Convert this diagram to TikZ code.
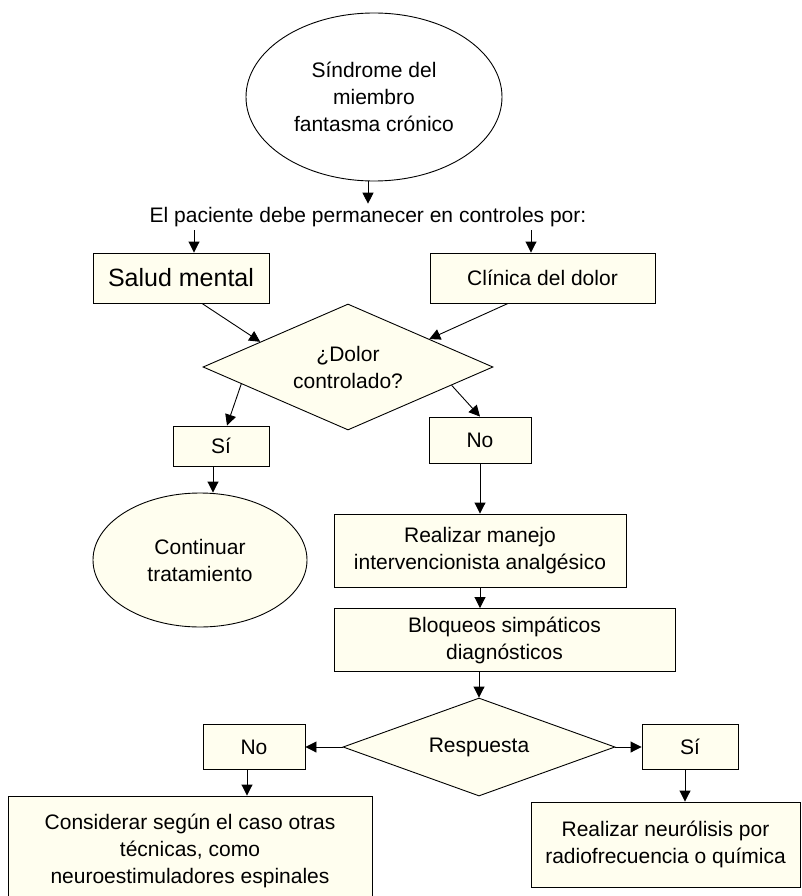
\documentclass[tikz,border=0pt]{standalone}
\usepackage{fontspec}
\setmainfont{Liberation Sans}
\usepackage{tikz}
\usetikzlibrary{shapes.geometric,arrows.meta}
\definecolor{crema}{HTML}{FFFEEF}

\begin{document}
\begin{tikzpicture}[x=1pt,y=-1pt,
                    every node/.style={font=\fontsize{21}{27}\selectfont, align=center},
                    caja/.style={draw, fill=crema, line width=0.9pt, inner sep=0pt},
                    elipse/.style={draw, ellipse, line width=0.9pt, inner sep=0pt},
                    rombo/.style={draw, diamond, fill=crema, line width=0.9pt, inner sep=0pt, aspect=2.3},
                    flecha/.style={line width=0.9pt, -{Triangle[length=11pt,width=11pt]}}]
                    \useasboundingbox (0,0) rectangle (801,896);
                    \node[elipse, fill=white, minimum width=256, minimum height=168] (sindrome) at (374,97)
                        {S\'{\i}ndrome del\\miembro\\fantasma cr\'onico};
                    \node (texto) at (368,217) {El paciente debe permanecer en controles por:};
                    \node[caja, minimum width=176, minimum height=50, font=\fontsize{25}{30}\selectfont] (salud) at (181,278) {Salud mental};
                    \node[caja, minimum width=225, minimum height=50] (clinica) at (542.5,278) {Cl\'{\i}nica del dolor};
                    \node[rombo, minimum width=290, minimum height=126] (dolor) at (348,367) {¿Dolor\\controlado?};
                    \node[caja, minimum width=96, minimum height=40] (si1) at (221,446) {S\'{\i}};
                    \node[caja, minimum width=102, minimum height=46] (no1) at (480,440) {No};
                    \node[elipse, fill=crema, minimum width=214, minimum height=134] (continuar) at (200,560)
                        {Continuar\\tratamiento};
                    \node[caja, minimum width=292, minimum height=73] (manejo) at (480,550.5)
                        {Realizar manejo\\intervencionista analg\'esico};
                    \node[caja, minimum width=341, minimum height=63] (bloqueos) at (504.5,640)
                        {Bloqueos simp\'aticos\\diagn\'osticos};
                    \node[rombo, minimum width=272, minimum height=98] (respuesta) at (479,747) {Respuesta};
                    \node[caja, minimum width=102, minimum height=45] (no2) at (254,747) {No};
                    \node[caja, minimum width=96, minimum height=45] (si2) at (690,747) {S\'{\i}};
                    \node[caja, minimum width=364, minimum height=110] (considerar) at (190,851)
                        {Considerar seg\'un el caso otras\\t\'ecnicas, como\\neuroestimuladores espinales};
                    \node[caja, minimum width=269, minimum height=85] (neurolisis) at (665.5,844.5)
                        {Realizar neur\'olisis por\\radiofrecuencia o qu\'{\i}mica};

                    \draw[flecha] (texto.north |- sindrome.south) -- (texto.north);
                    \draw[flecha] ([xshift=13pt]salud.north |- texto.south) -- ([xshift=13pt]salud.north);
                    \draw[flecha] ([xshift=-11.5pt]clinica.north |- texto.south) -- ([xshift=-11.5pt]clinica.north);
                    \draw[flecha] ([xshift=21pt]salud.south) -- (dolor.164);
                    \draw[flecha] ([xshift=-34.5pt]clinica.south) -- (dolor.19);
                    \draw[flecha] (dolor.189) -- ([xshift=6pt]si1.north);
                    \draw[flecha] (dolor.-10) -- (no1.north);
                    \draw[flecha] ([xshift=-8pt]si1.south) -- ([xshift=-8pt]si1.south |- continuar.north);
                    \draw[flecha] (no1.south) -- (manejo.north);
                    \draw[flecha] (manejo.south) -- (manejo.south |- bloqueos.north);
                    \draw[flecha] (respuesta.north |- bloqueos.south) -- (respuesta.north);
                    \draw[flecha] (respuesta.west) -- (no2.east);
                    \draw[flecha] (respuesta.east) -- (si2.west);
                    \draw[flecha] ([xshift=-7pt]no2.south) -- ([xshift=-7pt]no2.south |- considerar.north);
                    \draw[flecha] ([xshift=-5pt]si2.south) -- ([xshift=-5pt]si2.south |- neurolisis.north);
\end{tikzpicture}
\end{document}
